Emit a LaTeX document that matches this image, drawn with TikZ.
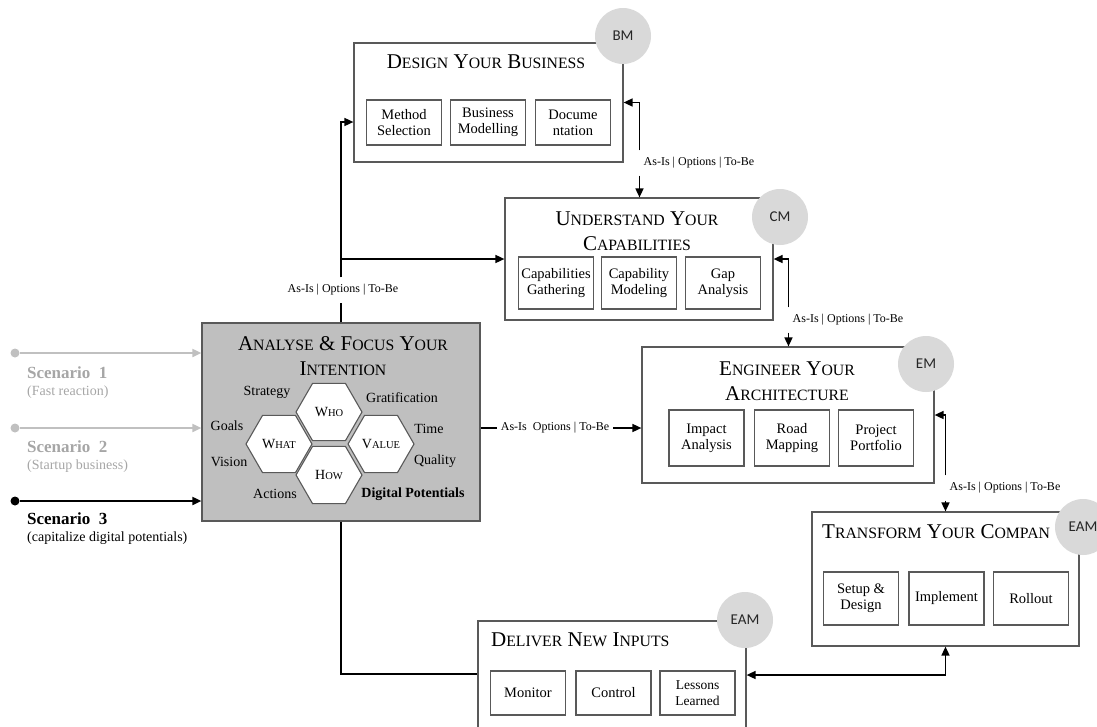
\documentclass[tikz,border=0pt]{standalone}
\usepackage{fontspec}
\setmainfont{Liberation Serif}
\newfontfamily\circfont{Carlito}
\usepackage{tikz}
\usetikzlibrary{shapes.geometric}
\usetikzlibrary{arrows.meta}
\pgfdeclarelayer{nodelayer}
\pgfdeclarelayer{edgelayer}
\pgfsetlayers{nodelayer,edgelayer,main}
\definecolor{boxline}{HTML}{595959}
\definecolor{focusfill}{HTML}{BFBFBF}
\definecolor{circfill}{HTML}{D9D9D9}
\definecolor{scenline}{HTML}{C0C0C0}
\definecolor{scentext}{HTML}{A6A6A6}
\newcommand{\tsc}[1]{{\fontsize{15.75}{25}\selectfont #1}}
\newcommand{\hsc}[1]{{\fontsize{10.5}{12}\selectfont #1}}
\tikzset{
  phase/.style={draw=boxline, line width=1.2pt, minimum width=268pt, inner sep=0pt},
  heading/.style={align=center, inner sep=0pt, font=\fontsize{21}{25}\selectfont},
  task/.style={draw=boxline, line width=1.1pt, minimum width=75pt, inner sep=0pt, align=center, font=\fontsize{14.5}{16}\selectfont},
  hex/.style={regular polygon, regular polygon sides=6, minimum size=66pt, inner sep=0pt, draw=boxline, line width=1.1pt, fill=white, font=\fontsize{14}{16}\selectfont},
  facet/.style={inner sep=0pt, font=\fontsize{14}{16}\selectfont},
  tag/.style={inner xsep=4pt, inner ysep=7pt, font=\fontsize{12}{14}\selectfont},
  model/.style={circle, fill=circfill, minimum size=56pt, inner sep=0pt, text=black!85, font=\circfont\fontsize{15}{17}\selectfont},
  conn/.style={line width=1.6pt},
  arr/.style={conn, -{Triangle[length=9pt,width=8pt]}},
  biarr/.style={conn, {Triangle[length=9pt,width=8pt]}-{Triangle[length=9pt,width=8pt]}},
  scen/.style={line width=1.8pt, -{Triangle[length=9pt,width=8pt]}},
  dot/.style={circle, fill, minimum size=9pt, inner sep=0pt}
}
\begin{document}
\begin{tikzpicture}[x=1pt, y=-1pt]
        \useasboundingbox (0,0) rectangle (1097,726);
        \begin{pgfonlayer}{nodelayer}
            % phases
            \node [phase, fill=focusfill, minimum width=278pt, minimum height=198pt] (0) at (341, 422) {};
            \node [phase, minimum width=269pt, minimum height=119pt] (1) at (488.5, 102.5) {};
            \node [phase, minimum height=122pt] (2) at (639, 259) {};
            \node [phase, minimum width=292pt, minimum height=136pt] (3) at (788, 415) {};
            \node [phase, minimum width=267pt, minimum height=134pt] (4) at (945.5, 579) {};
            \node [phase, minimum height=150pt] (5) at (612, 696) {};
            % headings
            \node [heading] (6) at (343, 356) {A\tsc{NALYSE} \& F\tsc{OCUS} Y\tsc{OUR}\\I\tsc{NTENTION}};
            \node [heading] (7) at (486, 62) {D\tsc{ESIGN} Y\tsc{OUR} B\tsc{USINESS}};
            \node [heading] (8) at (637, 231) {U\tsc{NDERSTAND} Y\tsc{OUR}\\C\tsc{APABILITIES}};
            \node [heading] (9) at (787, 381) {E\tsc{NGINEER} Y\tsc{OUR}\\A\tsc{RCHITECTURE}};
            \node [heading, anchor=west] (10) at (822, 532) {T\tsc{RANSFORM} Y\tsc{OUR} C\tsc{OMPAN}};
            \node [heading, anchor=west] (11) at (491, 640) {D\tsc{ELIVER} N\tsc{EW} I\tsc{NPUTS}};
            % tasks
            \node [task, minimum height=45pt] (12) at (404, 122.5) {Method\\Selection};
            \node [task, minimum height=45pt] (13) at (488, 122.5) {Business\\Modelling};
            \node [task, minimum height=45pt] (14) at (573, 122.5) {Docume\\ntation};
            \node [task, minimum height=52pt] (15) at (556, 283) {Capabilities\\Gathering};
            \node [task, minimum height=52pt] (16) at (639, 283) {Capability\\Modeling};
            \node [task, minimum height=52pt] (17) at (723, 283) {Gap\\Analysis};
            \node [task, minimum height=56pt] (18) at (706.5, 438) {Impact\\Analysis};
            \node [task, minimum height=56pt] (19) at (792, 438) {Road\\Mapping};
            \node [task, minimum height=56pt] (20) at (876, 438) {Project\\Portfolio};
            \node [task, minimum height=53pt] (21) at (861, 598.5) {Setup \&\\Design};
            \node [task, minimum height=53pt] (22) at (946.5, 598.5) {Implement};
            \node [task, minimum height=53pt] (23) at (1031, 598.5) {Rollout};
            \node [task, minimum height=44pt] (24) at (528, 693) {Monitor};
            \node [task, minimum height=44pt] (25) at (613.5, 693) {Control};
            \node [task, minimum height=44pt, font=\fontsize{13.5}{16}\selectfont] (26) at (697.5, 693) {Lessons\\Learned};
            % hexagons
            \node [hex] (27) at (279, 444) {W\hsc{HAT}};
            \node [hex] (28) at (329, 412) {W\hsc{HO}};
            \node [hex] (29) at (381, 444) {V\hsc{ALUE}};
            \node [hex] (30) at (329, 475) {H\hsc{OW}};
            \node [facet] (31) at (267, 392) {Strategy};
            \node [facet] (32) at (402, 398) {Gratification};
            \node [facet] (33) at (227, 426) {Goals};
            \node [facet] (34) at (429, 429) {Time};
            \node [facet] (35) at (229, 462) {Vision};
            \node [facet] (36) at (435, 461) {Quality};
            \node [facet] (37) at (275, 494) {Actions};
            \node [facet, font=\bfseries\fontsize{14}{16}\selectfont] (38) at (413, 494) {Digital Potentials};
            % scenarios
            \node [dot, fill=scenline] (39) at (15, 353) {};
            \node [dot, fill=scenline] (40) at (15, 428) {};
            \node [dot, fill=black] (41) at (15, 501) {};
            \node [anchor=west, inner sep=0pt, text=scentext, font=\bfseries\fontsize{17}{19}\selectfont] (42) at (27, 373) {Scenario\ \ 1};
            \node [anchor=west, inner sep=0pt, text=scentext, font=\fontsize{14}{16}\selectfont] (43) at (27, 392) {(Fast reaction)};
            \node [anchor=west, inner sep=0pt, text=scentext, font=\bfseries\fontsize{17}{19}\selectfont] (44) at (27, 447) {Scenario\ \ 2};
            \node [anchor=west, inner sep=0pt, text=scentext, font=\fontsize{14}{16}\selectfont] (45) at (27, 466) {(Startup business)};
            \node [anchor=west, inner sep=0pt, font=\bfseries\fontsize{17}{19}\selectfont] (46) at (27, 519) {Scenario\ \ 3};
            \node [anchor=west, inner sep=0pt, font=\fontsize{14}{16}\selectfont] (47) at (27, 538) {(capitalize digital potentials)};
            % hand-over labels
            \node [tag] (48) at (343, 290) {As-Is | Options | To-Be};
            \node [tag] (49) at (699, 163) {As-Is | Options | To-Be};
            \node [tag] (50) at (848, 320) {As-Is | Options | To-Be};
            \node [tag] (51) at (1005, 488) {As-Is | Options | To-Be};
            \node [tag, inner ysep=3pt] (52) at (555, 428) {As-Is\ \ Options | To-Be};
        \end{pgfonlayer}
        \begin{pgfonlayer}{edgelayer}
            \draw [scen, draw=scenline] (39) -- (0.west |- 39);
            \draw [scen, draw=scenline] (40) -- (0.west |- 40);
            \draw [scen] (41) -- (0.west |- 41);
            \draw [conn] (0.north) -- (0.north |- 48.south);
            \draw [arr] (0.north |- 48.north) |- (1.west |- 0,122);
            \draw [arr] (0.north |- 2.west) -- (2.west);
            \draw [arr] (49.north west) |- (1.east);
            \draw [arr] (49.south west) -- (49.south west |- 2.north);
            \draw [arr] (50.north west) |- (2.east);
            \draw [arr] (50.south west) -- (50.south west |- 3.north);
            \draw [arr] (51.north west) |- (3.east);
            \draw [arr] (51.south west) -- (51.south west |- 4.north);
            \draw [conn] (0.east |- 52) -- (52);
            \draw [arr] (52) -- (3.west |- 52);
            \draw [biarr] (5.east |- 0,675) -| (4.south);
            \draw [conn] (0.south) |- (5.west |- 0,674);
        \end{pgfonlayer}
        % model circles
        \node [model] (53) at (623, 36) {BM};
        \node [model] (54) at (780, 217) {CM};
        \node [model] (55) at (926, 364) {EM};
        \node [model] (56) at (1083, 527) {EAM};
        \node [model] (57) at (745, 620) {EAM};
    \end{tikzpicture}
\end{document}
